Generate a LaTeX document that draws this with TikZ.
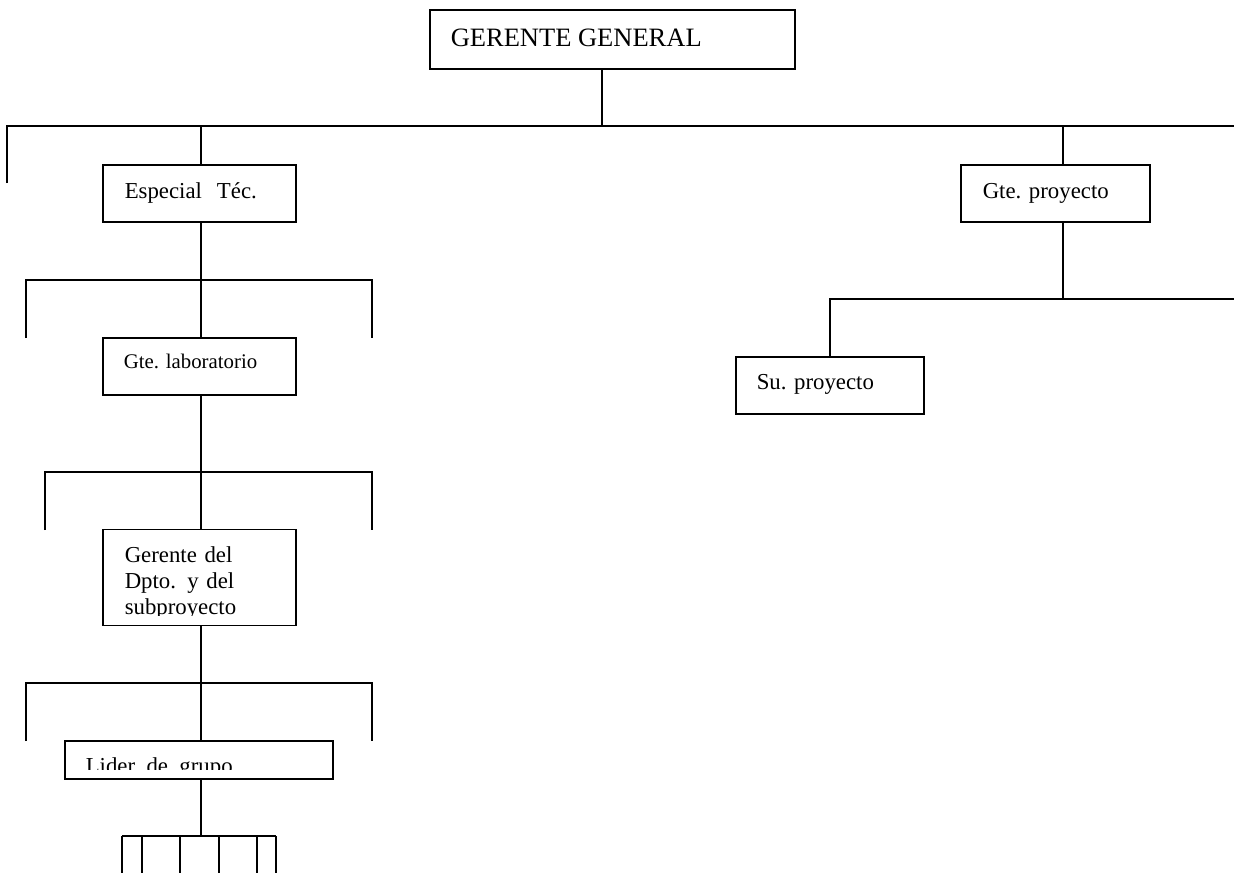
\documentclass[tikz,border=0pt]{standalone}
\usepackage{fontspec}
\setmainfont{Liberation Serif}
\begin{document}
\begin{tikzpicture}[x=1pt,y=-1pt,line width=1.5pt,
  box/.style={draw,rectangle,inner sep=0pt,line width=1.5pt},
  big/.style={anchor=base west,inner sep=0pt,font=\fontsize{26.5}{31}\selectfont},
  mid/.style={anchor=base west,inner sep=0pt,font=\fontsize{22.8}{26}\selectfont},
  small/.style={anchor=base west,inner sep=0pt,font=\fontsize{20.8}{24}\selectfont},
  conn/.style={draw,line width=1.5pt}]
\useasboundingbox (0,0) rectangle (1234,873);
% boxes
\node[box,minimum width=365pt,minimum height=59pt] (gg) at (612.5,39.5) {};
\node[big] (ggt) at (450,46) {GERENTE GENERAL};
\node[box,minimum width=193pt,minimum height=57pt] (esp) at (199.5,193.5) {};
\node[mid] (espt) at (124,198) {Especial\hspace{15pt}Téc.};
\node[box,minimum width=189pt,minimum height=57pt] (gtep) at (1055.5,193.5) {};
\node[mid] (gtept) at (982,198) {Gte. proyecto};
\node[box,minimum width=188pt,minimum height=57pt] (su) at (830,385.5) {};
\node[mid] (sut) at (756,389) {Su. proyecto};
\node[box,minimum width=193pt,minimum height=57pt] (lab) at (199.5,366.5) {};
\node[small] (labt) at (123,368) {Gte. laboratorio};
\node[box,minimum width=193pt,minimum height=96pt] (gd) at (199.5,577.5) {};
\begin{scope}
\clip (103,529) rectangle (296,615);
\node[mid,align=left,anchor=north west,text width=180pt] (gdt) at (124,546) {Gerente del\\Dpto. y del\\subproyecto};
\end{scope}
\node[box,minimum width=268pt,minimum height=38pt] (lid) at (199,760) {};
\begin{scope}
\clip (65,741) rectangle (333,769.5);
\node[mid] (lidt) at (85,773) {Lider\ \ de\ \ grupo};
\end{scope}
% junction coordinates
\coordinate (t0) at (7,126); \coordinate (t0d) at (7,183);
\coordinate (t1) at (201,126); \coordinate (tm) at (602,126);
\coordinate (t2) at (1063,126); \coordinate (t3) at (1234,126);
\coordinate (p0) at (1063,299); \coordinate (p1) at (830,299); \coordinate (p2) at (1234,299);
\coordinate (a0) at (201,280); \coordinate (a1) at (26,280); \coordinate (a2) at (372,280);
\coordinate (a1d) at (26,338); \coordinate (a2d) at (372,338);
\coordinate (b0) at (201,472); \coordinate (b1) at (45,472); \coordinate (b2) at (372,472);
\coordinate (b1d) at (45,530); \coordinate (b2d) at (372,530);
\coordinate (c0) at (201,683); \coordinate (c1) at (26,683); \coordinate (c2) at (372,683);
\coordinate (c1d) at (26,741); \coordinate (c2d) at (372,741);
\coordinate (d0) at (201,836); \coordinate (d1) at (122,836); \coordinate (d2) at (276,836);
% connectors
\draw[conn] (gg.south -| tm) -- (tm);
\draw[conn] (t0d) -- (t0) -- (t3);
\draw[conn] (t1) -- (esp.north -| t1);
\draw[conn] (t2) -- (gtep.north -| t2);
\draw[conn] (gtep.south -| p0) -- (p0);
\draw[conn] (p2) -- (p1) -- (su.north -| p1);
\draw[conn] (esp.south -| a0) -- (a0);
\draw[conn] (a1d) -- (a1) -- (a2) -- (a2d);
\draw[conn] (a0) -- (lab.north -| a0);
\draw[conn] (lab.south -| b0) -- (b0);
\draw[conn] (b1d) -- (b1) -- (b2) -- (b2d);
\draw[conn] (b0) -- (gd.north -| b0);
\draw[conn] (gd.south -| c0) -- (c0);
\draw[conn] (c1d) -- (c1) -- (c2) -- (c2d);
\draw[conn] (c0) -- (lid.north -| c0);
\draw[conn] (lid.south -| d0) -- (d0);
\draw[conn] (d1) -- (d2);
\foreach \x/\n in {122/e1,142/e2,180/e3,219/e4,257/e5,276/e6} {
  \coordinate (\n) at (\x,836); \coordinate (\n d) at (\x,873);
  \draw[conn] (\n) -- (\n d);
}
\end{tikzpicture}
\end{document}
